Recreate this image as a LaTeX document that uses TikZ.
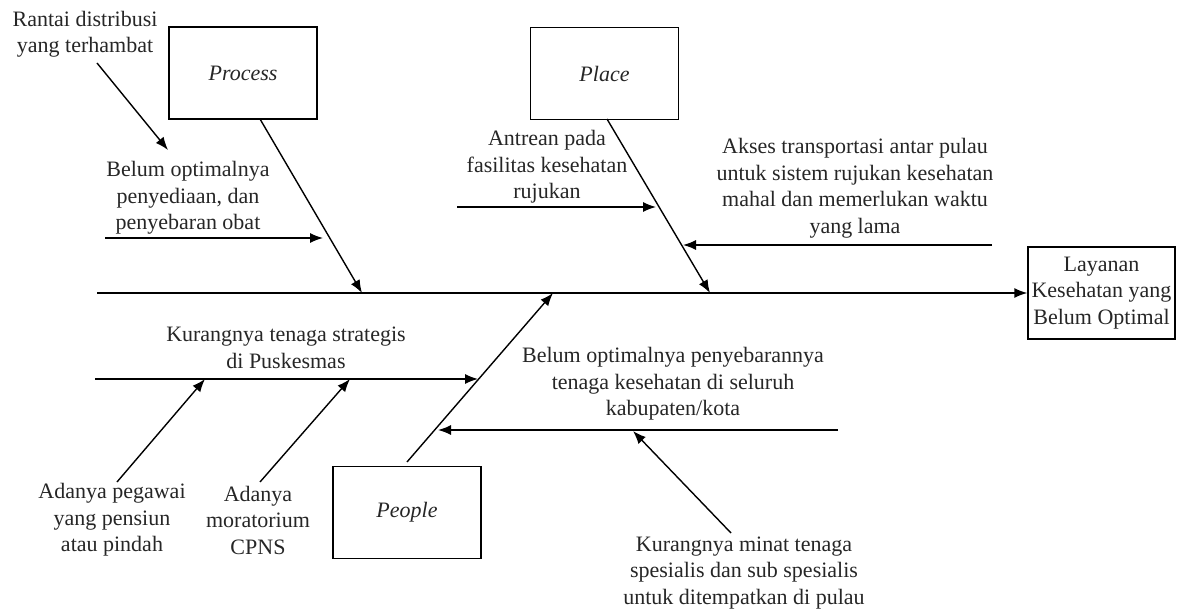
\documentclass[tikz,border=0pt]{standalone}
\usepackage{fontspec}
\setmainfont{Liberation Serif}
\usetikzlibrary{arrows.meta}
\begin{document}
\begin{tikzpicture}[x=1pt,y=-1pt,
  every node/.style={font=\fontsize{22}{26.5}\selectfont, text=black!85},
  lbl/.style={align=center, inner sep=0pt},
  box/.style={draw, line width=1.4pt, minimum width=148pt, minimum height=92pt, inner sep=0pt, align=center},
  arr/.style={line width=1.4pt, -{Latex[length=13pt,width=10pt]}},
  ln/.style={line width=1.4pt}]
\useasboundingbox (0,0) rectangle (1185,609);
% boxes
\node[box] (process) at (243,73) {\itshape Process};
\node[box] (place) at (604.5,73.5) {\itshape Place};
\node[box] (people) at (407,512.5) {\itshape People};
\node[box, minimum width=147pt] (result) at (1101.5,293) {Layanan\\Kesehatan yang\\Belum Optimal};
% spine
\coordinate (spine0) at (97,293);
\draw[arr] (spine0) -- (result.west);
% main bones
\coordinate (pr0) at (260,119);
\coordinate (pr1) at (362,293);
\coordinate (pl0) at (607,119);
\coordinate (pl1) at (710,293);
\coordinate (pe0) at (407,462);
\coordinate (pe1) at (553,293);
\draw[arr] (pr0) -- (pr1);
\draw[arr] (pl0) -- (pl1);
\draw[arr] (pe0) -- (pe1);
% labels
\node[lbl] (rantai) at (85,34) {Rantai distribusi\\yang terhambat};
\node[lbl] (obat) at (188,198) {Belum optimalnya\\penyediaan, dan\\penyebaran obat};
\node[lbl] (antrean) at (547,167) {Antrean pada\\fasilitas kesehatan\\rujukan};
\node[lbl] (akses) at (855,188) {Akses transportasi antar pulau\\untuk sistem rujukan kesehatan\\mahal dan memerlukan waktu\\yang lama};
\node[lbl] (strategis) at (286,348) {Kurangnya tenaga strategis\\di Puskesmas};
\node[lbl] (pegawai) at (112,520) {Adanya pegawai\\yang pensiun\\atau pindah};
\node[lbl] (moratorium) at (258,520) {Adanya\\moratorium\\CPNS};
\node[lbl] (sebaran) at (673,384) {Belum optimalnya penyebarannya\\tenaga kesehatan di seluruh\\kabupaten/kota};
\node[lbl] (minat) at (744,573) {Kurangnya minat tenaga\\spesialis dan sub spesialis\\untuk ditempatkan di pulau};
% sub arrows
\coordinate (a1s) at (105,238); \coordinate (a1e) at (323,238);
\draw[arr] (a1s) -- (a1e);
\coordinate (a2s) at (97,63); \coordinate (a2e) at (168,150);
\draw[arr] (a2s) -- (a2e);
\coordinate (a3s) at (457,207); \coordinate (a3e) at (656,207);
\draw[arr] (a3s) -- (a3e);
\coordinate (a4s) at (992,245); \coordinate (a4e) at (683,245);
\draw[arr] (a4s) -- (a4e);
\coordinate (a5s) at (95,379); \coordinate (a5e) at (478,379);
\draw[arr] (a5s) -- (a5e);
\coordinate (a6s) at (117,482); \coordinate (a6e) at (205,379);
\draw[arr] (a6s) -- (a6e);
\coordinate (a7s) at (260,482); \coordinate (a7e) at (350,379);
\draw[arr] (a7s) -- (a7e);
\coordinate (a8s) at (838,430); \coordinate (a8e) at (438,430);
\draw[arr] (a8s) -- (a8e);
\coordinate (a9s) at (731,533); \coordinate (a9e) at (633,431);
\draw[arr] (a9s) -- (a9e);
\end{tikzpicture}
\end{document}
